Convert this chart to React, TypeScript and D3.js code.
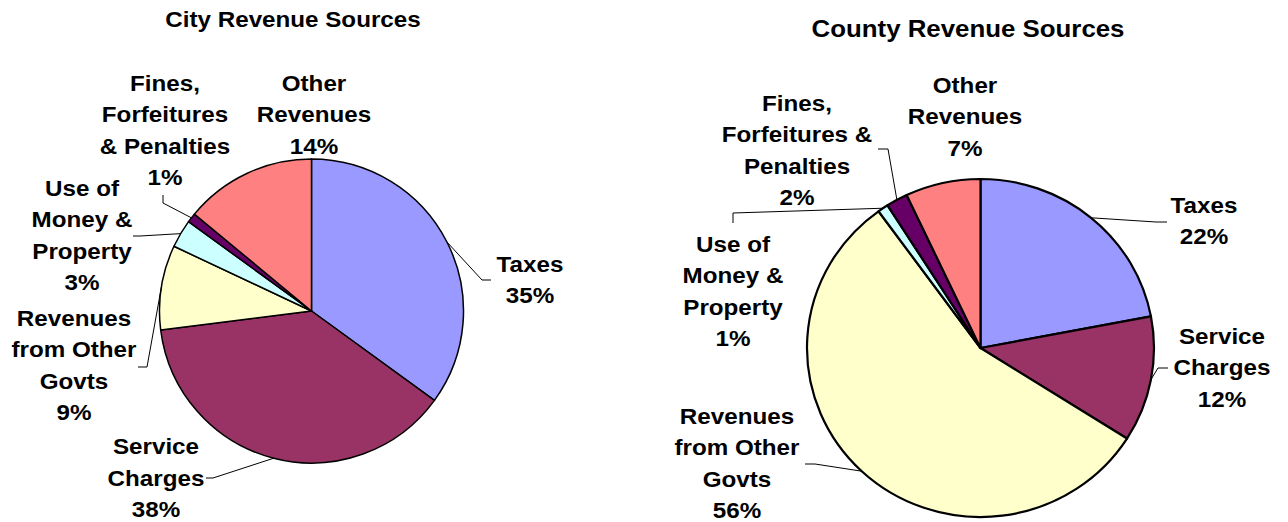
import React from "react";
import * as d3 from "d3";

const categories = [
  "Taxes",
  "Service Charges",
  "Revenues from Other Govts",
  "Use of Money & Property",
  "Fines, Forfeitures & Penalties",
  "Other Revenues",
];
const cityValues = [35, 38, 9, 3, 1, 14];
const countyValues = [22, 12, 56, 1, 2, 7];
const cityLabelLines = [
  ["Taxes"],
  ["Service", "Charges"],
  ["Revenues", "from Other", "Govts"],
  ["Use of", "Money &", "Property"],
  ["Fines,", "Forfeitures", "& Penalties"],
  ["Other", "Revenues"],
];
const countyLabelLines = [
  ["Taxes"],
  ["Service", "Charges"],
  ["Revenues", "from Other", "Govts"],
  ["Use of", "Money &", "Property"],
  ["Fines,", "Forfeitures &", "Penalties"],
  ["Other", "Revenues"],
];
const colors = ["#9999FF", "#993366", "#FFFFCC", "#CCFFFF", "#660066", "#FF8080"];

// layout (not data)
const W = 1288;
const H = 522;
const FONT = "'Liberation Sans', Arial, Helvetica, sans-serif";
const LABEL_FS = 22;
const STRETCH = 1.1;
const LINE = 31.5;

type Pt = [number, number];
interface ChartLayout {
  title: string;
  titlePos: Pt;
  titleFs: number;
  cx: number;
  cy: number;
  rx: number;
  ry: number;
  strokeW: number;
  labelPos: Pt[];
  leaders: (Pt[] | null)[];
}

const cityLayout: ChartLayout = {
  title: "City Revenue Sources",
  titlePos: [293, 19],
  titleFs: 22,
  cx: 311.5,
  cy: 311,
  rx: 152,
  ry: 152,
  strokeW: 1.5,
  labelPos: [
    [530, 264],
    [156, 446.5],
    [74, 318],
    [82, 188],
    [165, 83],
    [314, 83],
  ],
  leaders: [
    [[482, 280], [491, 280]],
    [[213, 478], [206, 478]],
    [[147, 367], [138, 367]],
    [[140, 236], [133, 236]],
    [[163, 203], [163, 195]],
    null,
  ],
};

const countyLayout: ChartLayout = {
  title: "County Revenue Sources",
  titlePos: [968, 29],
  titleFs: 23.5,
  cx: 980.5,
  cy: 348,
  rx: 173.5,
  ry: 169,
  strokeW: 2.2,
  labelPos: [
    [1204, 205],
    [1222, 336],
    [737, 416],
    [733, 244],
    [797, 103],
    [965, 85],
  ],
  leaders: [
    [[1156, 222], [1167, 222]],
    [[1158, 368], [1168, 368]],
    [[815, 464], [805, 464]],
    [[733, 213], [733, 223]],
    [[888, 149], [878, 149]],
    null,
  ],
};

function PieChart({ values, lines, layout }: { values: number[]; lines: string[][]; layout: ChartLayout }) {
  const pie = d3
    .pie<number>()
    .sort(null)
    .value((d) => d)
    .startAngle(0)
    .endAngle(2 * Math.PI);
  const arcs = pie(values);
  const arc = d3.arc<d3.PieArcDatum<number>>().innerRadius(0).outerRadius(layout.rx);
  const total = d3.sum(values);
  const pct = d3.format(".0%");
  const capHalf = (fs: number) => fs * 0.716 * 0.5;

  return (
    <g>
      <text
        transform={`translate(${layout.titlePos[0]},${layout.titlePos[1] + capHalf(layout.titleFs)}) scale(${STRETCH},1)`}
        textAnchor="middle"
        fontFamily={FONT}
        fontWeight="bold"
        fontSize={layout.titleFs}
        fill="#000"
      >
        {layout.title}
      </text>
      <g transform={`translate(${layout.cx},${layout.cy}) scale(1,${layout.ry / layout.rx})`}>
        {arcs.map((a, i) => (
          <path
            key={categories[i]}
            d={arc(a) || ""}
            fill={colors[i]}
            stroke="#000"
            strokeWidth={layout.strokeW}
            strokeLinejoin="round"
            vectorEffect="non-scaling-stroke"
          />
        ))}
      </g>
      {arcs.map((a, i) => {
        const pts = layout.leaders[i];
        if (!pts) return null;
        const m = (a.startAngle + a.endAngle) / 2;
        const start: Pt = [layout.cx + layout.rx * Math.sin(m), layout.cy - layout.ry * Math.cos(m)];
        const line = d3.line()([start, ...pts]);
        return <path key={"l" + i} d={line || ""} fill="none" stroke="#000" strokeWidth={1} />;
      })}
      {arcs.map((a, i) => {
        const [lx, ly] = layout.labelPos[i];
        const all = [...lines[i], pct(values[i] / total)];
        return (
          <g key={"t" + i}>
            {all.map((s, j) => (
              <text
                key={j}
                transform={`translate(${lx},${ly + j * LINE + capHalf(LABEL_FS)}) scale(${STRETCH},1)`}
                textAnchor="middle"
                fontFamily={FONT}
                fontWeight="bold"
                fontSize={LABEL_FS}
                fill="#000"
              >
                {s}
              </text>
            ))}
          </g>
        );
      })}
    </g>
  );
}

export default function App() {
  return (
    <svg
      width={W}
      height={H}
      viewBox={`0 0 ${W} ${H}`}
      style={{ position: "absolute", left: 0, top: 0, background: "#fff" }}
    >
      <rect width={W} height={H} fill="#fff" />
      <PieChart values={cityValues} lines={cityLabelLines} layout={cityLayout} />
      <PieChart values={countyValues} lines={countyLabelLines} layout={countyLayout} />
    </svg>
  );
}
